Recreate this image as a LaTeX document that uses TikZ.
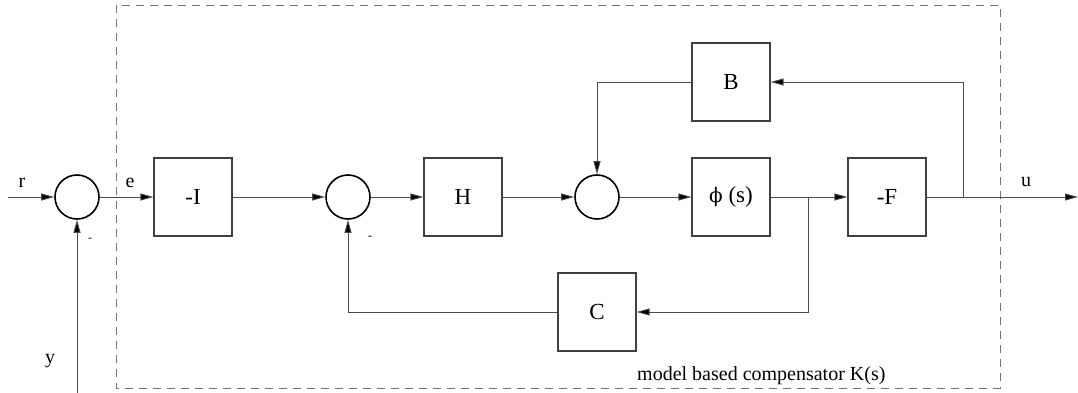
\documentclass[tikz,border=0pt]{standalone}
\usepackage{fontspec}
\setmainfont{Liberation Serif}
\newfontfamily\grkfont{DejaVu Serif}
\usetikzlibrary{arrows.meta}
\begin{document}
\begin{tikzpicture}[x=1pt,y=-1pt,
  font=\fontsize{20}{24}\selectfont,
  blk/.style={draw=black!75,line width=1.1pt,minimum width=78pt,minimum height=78pt,inner sep=0pt,
    font=\fontsize{23}{26}\selectfont},
  sumj/.style={draw=black,line width=1.6pt,circle,minimum size=44pt,inner sep=0pt},
  sig/.style={draw=black!70,line width=0.9pt,-{Triangle[length=13pt,width=7pt,fill=black]}},
  lbl/.style={inner sep=0pt}]
\useasboundingbox (0,0) rectangle (1078,393);
% compensator boundary
\draw[black!55,line width=0.9pt,dash pattern=on 8pt off 6pt] (116,5) rectangle (1000,388);
% blocks and summing junctions
\node[sumj] (s1) at (77,197) {};
\node[blk] (mI) at (193,197) {-I};
\node[sumj] (s2) at (348,197) {};
\node[blk] (H) at (463,197) {H};
\node[sumj] (s3) at (597,197) {};
\node[blk] (phi) at (731,197) {{\grkfont\fontsize{20}{24}\selectfont ϕ} (s)};
\node[blk] (F) at (887,197) {-F};
\node[blk] (B) at (731,82) {B};
\node[blk] (C) at (597,312) {C};
% free ends and branch points
\coordinate (rin) at (8,197);
\coordinate (yin) at (77,393);
\coordinate (uout) at (1078,197);
\coordinate (br1) at (808,197);
\coordinate (br2) at (963,197);
% forward path
\draw[sig] (rin) -- (s1.west);
\draw[sig] (yin) -- (s1.south);
\draw[sig] (s1.east) -- (mI.west);
\draw[sig] (mI.east) -- (s2.west);
\draw[sig] (s2.east) -- (H.west);
\draw[sig] (H.east) -- (s3.west);
\draw[sig] (s3.east) -- (phi.west);
\draw[sig] (phi.east) -- (F.west);
\draw[sig] (F.east) -- (uout);
% feedback through B
\draw[sig] (br2) |- (B.east);
\draw[sig] (B.west) -| (s3.north);
% feedback through C
\draw[sig] (br1) |- (C.east);
\draw[sig] (C.west) -| (s2.south);
% signal labels
\node[lbl] (lr) at (22,183) {r};
\node[lbl] (le) at (130,183) {e};
\node[lbl] (ly) at (50,361) {y};
\node[lbl] (lu) at (1026,182) {u};
\node[lbl] (m1) at (90,240) {\fontsize{12}{12}\selectfont -};
\node[lbl] (m2) at (370,238) {\fontsize{12}{12}\selectfont -};
\node[lbl,anchor=base west] (lk) at (637,380) {model based compensator K(s)};
\end{tikzpicture}
\end{document}
